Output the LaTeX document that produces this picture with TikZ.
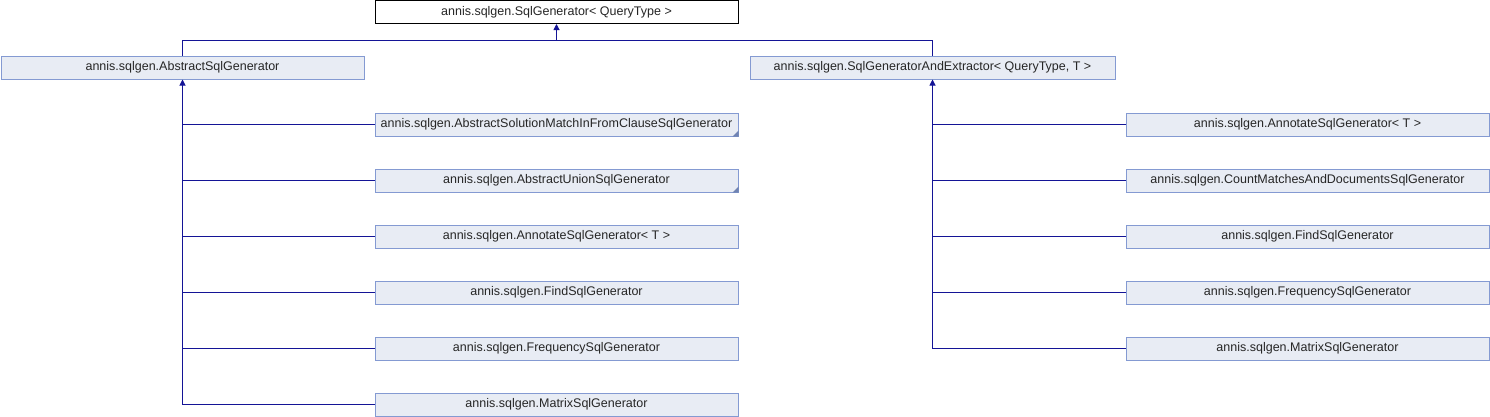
\documentclass[tikz,border=0pt]{standalone}
\usepackage{fontspec}
\setmainfont{Liberation Sans}
\usetikzlibrary{arrows.meta}
\definecolor{boxfill}{RGB}{232,236,244}
\definecolor{boxdraw}{RGB}{132,154,210}
\definecolor{edgecol}{RGB}{20,20,150}
\begin{document}
\begin{tikzpicture}[x=1pt,y=-1pt,
  cls/.style={draw=boxdraw,fill=boxfill,line width=1pt,minimum width=363pt,minimum height=23pt,inner sep=0pt,font=\fontsize{12.5}{14}\selectfont,text=black!85},
  rootcls/.style={cls,draw=black,fill=white},
  edge/.style={draw=edgecol,line width=1pt},
  inh/.style={edge,-{Triangle[width=6pt,length=6pt]}},
  fold/.style={fill=boxdraw!85!black}]
\useasboundingbox (0,0) rectangle (1490,416);
\node[rootcls] (top) at (556.5,12) {annis.sqlgen.SqlGenerator< QueryType >};
\node[cls] (abs) at (182.5,67.5) {annis.sqlgen.AbstractSqlGenerator};
\node[cls,minimum width=365pt] (sgae) at (932.5,67.5) {annis.sqlgen.SqlGeneratorAndExtractor< QueryType, T >};
\coordinate (j0) at (556.5,40);
\draw[inh] (abs.north) |- (j0) -- (top.south);
\draw[edge] (sgae.north) |- (j0);
% left children
\node[cls] (l1) at (556.5,124.5) {annis.sqlgen.AbstractSolutionMatchInFromClauseSqlGenerator};
\node[cls] (l2) at (556.5,180.5) {annis.sqlgen.AbstractUnionSqlGenerator};
\node[cls] (l3) at (556.5,236.5) {annis.sqlgen.AnnotateSqlGenerator< T >};
\node[cls] (l4) at (556.5,292.5) {annis.sqlgen.FindSqlGenerator};
\node[cls] (l5) at (556.5,348.5) {annis.sqlgen.FrequencySqlGenerator};
\node[cls] (l6) at (556.5,404.5) {annis.sqlgen.MatrixSqlGenerator};
\foreach \n in {l1,l2} {
  \fill[fold] (\n.south east) ++(-6,0) -- (\n.south east) -- ++(0,-6) -- cycle;
}
\draw[inh] (l6.west) -| (abs.south);
\foreach \n in {l1,l2,l3,l4,l5} { \draw[edge] (\n.west) -- (abs.south |- \n.west); }
% right children
\node[cls] (r1) at (1307.5,124.5) {annis.sqlgen.AnnotateSqlGenerator< T >};
\node[cls] (r2) at (1307.5,180.5) {annis.sqlgen.CountMatchesAndDocumentsSqlGenerator};
\node[cls] (r3) at (1307.5,236.5) {annis.sqlgen.FindSqlGenerator};
\node[cls] (r4) at (1307.5,292.5) {annis.sqlgen.FrequencySqlGenerator};
\node[cls] (r5) at (1307.5,348.5) {annis.sqlgen.MatrixSqlGenerator};
\draw[inh] (r5.west) -| (sgae.south);
\foreach \n in {r1,r2,r3,r4} { \draw[edge] (\n.west) -- (sgae.south |- \n.west); }
\end{tikzpicture}
\end{document}
